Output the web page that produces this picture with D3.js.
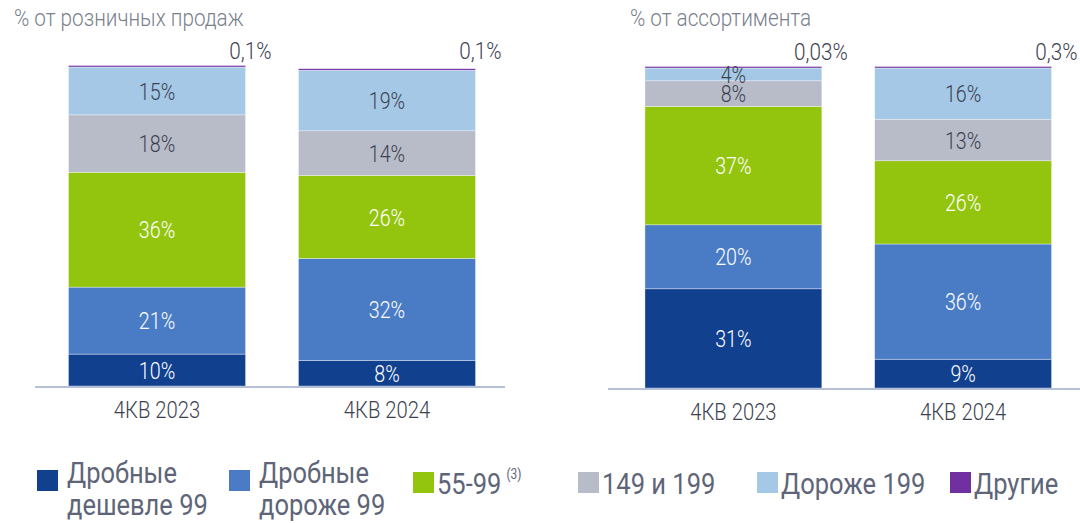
<!DOCTYPE html>
<html>
<head>
<meta charset="utf-8">
<script src="https://cdn.jsdelivr.net/npm/d3@7"></script>
<style>
  body { margin: 0; background: #fff; }
  svg { font-family: Roboto, "Noto Sans", sans-serif; }
</style>
</head>
<body>
<svg id="chart" width="1080" height="523"></svg>
<script>
// categories
var periods = ["4КВ 2023", "4КВ 2024"];
var seriesKeys = ["cheap", "dear", "mid", "p149", "p199", "other"];
var seriesNames = ["Дробные\nдешевле 99", "Дробные\nдороже 99", "55-99", "149 и 199", "Дороже 199", "Другие"];
var seriesColors = ["#11408f", "#4a7cc6", "#93c50f", "#b8bcc8", "#a5c8e6", "#7030a0"];

// % от розничных продаж
var salesCheap = [10, 8];
var salesDear = [21, 32];
var salesMid = [36, 26];
var sales149 = [18, 14];
var sales199 = [15, 19];
var salesOther = [0.1, 0.1];
var salesOtherLabels = ["0,1%", "0,1%"];

// % от ассортимента
var assortCheap = [31, 9];
var assortDear = [20, 36];
var assortMid = [37, 26];
var assort149 = [8, 13];
var assort199 = [4, 16];
var assortOther = [0.03, 0.3];
var assortOtherLabels = ["0,03%", "0,3%"];

var svg = d3.select("#chart");

function buildRows(a, b, c, d, e, f) {
    return periods.map(function(p, i) {
        return { period: p, cheap: a[i], dear: b[i], mid: c[i], p149: d[i], p199: e[i], other: f[i] };
    });
}

// the original uses a condensed face, so squeeze the text horizontally
function condensed(sel, sx) {
    return sel.attr("transform", function() {
        var t = d3.select(this);
        return "translate(" + t.attr("x") + "," + t.attr("y") + ") scale(" + sx + ",1)";
    }).attr("x", 0).attr("y", 0);
}

// dark text on light fills, white on dark ones
var labelColor = { cheap: "#ffffff", dear: "#ffffff", mid: "#ffffff", p149: "#3d4250", p199: "#3d4250", other: "#3d4250" };

function drawPanel(opts) {
    var g = svg.append("g");

    var x = d3.scaleBand()
        .domain(periods)
        .range(opts.xRange)
        .paddingInner(0.23)
        .paddingOuter(0.15);

    var y = d3.scaleLinear()
        .domain([0, 100])
        .range([opts.base, opts.top]);

    var stacked = d3.stack().keys(seriesKeys)(opts.rows);

    var layers = g.selectAll("g.layer")
        .data(stacked)
        .enter().append("g")
        .attr("class", "layer")
        .attr("fill", function(d, i) { return seriesColors[i]; });

    layers.selectAll("rect")
        .data(function(d) { return d; })
        .enter().append("rect")
        .attr("x", function(d) { return x(d.data.period); })
        .attr("width", x.bandwidth())
        .attr("y", function(d) { return Math.min(y(d[1]), y(d[0]) - 1.5); })
        .attr("height", function(d) { return Math.max(y(d[0]) - y(d[1]), 1.5); })
        .attr("stroke", "#ffffff")
        .attr("stroke-width", 0.6)
        .attr("stroke-opacity", 0.6);

    // segment labels (all but "Другие")
    stacked.forEach(function(layer) {
        if (layer.key === "other") return;
        var lbl = g.selectAll(null)
            .data(layer)
            .enter().append("text")
            .attr("x", function(d) { return x(d.data.period) + x.bandwidth() / 2; })
            .attr("y", function(d) { return (y(d[0]) + y(d[1])) / 2; })
            .attr("dy", "0.36em")
            .attr("text-anchor", "middle")
            .attr("font-size", 24)
            .attr("font-weight", 300)
            .attr("fill", labelColor[layer.key])
            .text(function(d) { return Math.round(d[1] - d[0]) + "%"; });
        condensed(lbl, 0.82);
    });

    // "Другие" labels above the bars
    var oth = g.selectAll("text.other")
        .data(opts.rows)
        .enter().append("text")
        .attr("class", "other")
        .attr("x", function(d) { return x(d.period) + x.bandwidth() + 26; })
        .attr("y", opts.top - 8)
        .attr("text-anchor", "end")
        .attr("font-size", 23)
        .attr("font-weight", 300)
        .attr("fill", "#3d4250")
        .text(function(d, i) { return opts.otherLabels[i]; });
    condensed(oth, 0.9);

    // baseline
    g.append("line")
        .attr("x1", opts.lineX[0]).attr("x2", opts.lineX[1])
        .attr("y1", opts.base + 1).attr("y2", opts.base + 1)
        .attr("stroke", "#b4c0d6")
        .attr("stroke-width", 2);

    // x axis labels
    var axis = g.append("g")
        .attr("transform", "translate(0," + (opts.base + 2) + ")")
        .call(d3.axisBottom(x).tickSize(0).tickPadding(14));
    axis.select(".domain").remove();
    axis.selectAll("text")
        .attr("font-family", "Roboto, sans-serif")
        .attr("font-size", 23)
        .attr("font-weight", 300)
        .attr("fill", "#3d4250")
        .attr("transform", "scale(0.88,1)");

    // panel title
    var title = g.append("text")
        .attr("x", opts.titleX)
        .attr("y", 26)
        .attr("font-size", 23)
        .attr("font-weight", 300)
        .attr("fill", "#7a7f8c")
        .text(opts.title);
    condensed(title, 0.9);
}

drawPanel({
    rows: buildRows(salesCheap, salesDear, salesMid, sales149, sales199, salesOther),
    otherLabels: salesOtherLabels,
    xRange: [34, 510],
    base: 386, top: 67,
    lineX: [35, 505],
    title: "% от розничных продаж",
    titleX: 14
});

drawPanel({
    rows: buildRows(assortCheap, assortDear, assortMid, assort149, assort199, assortOther),
    otherLabels: assortOtherLabels,
    xRange: [610.5, 1086],
    base: 388, top: 68,
    lineX: [608, 1080],
    title: "% от ассортимента",
    titleX: 630
});

// legend
var legendX = [37, 229, 413, 578, 757, 950];
var legend = svg.append("g");
var item = legend.selectAll("g")
    .data(seriesNames)
    .enter().append("g")
    .attr("transform", function(d, i) { return "translate(" + legendX[i] + ",0)"; });

item.append("rect")
    .attr("y", function(d, i) { return i < 2 ? 470 : 472; })
    .attr("width", 21)
    .attr("height", 21)
    .attr("fill", function(d, i) { return seriesColors[i]; });

item.each(function(name, i) {
    var lines = name.split("\n");
    var tx = i < 2 ? 30 : 24;
    lines.forEach(function(l, k) {
        var t = d3.select(this).append("text")
            .attr("transform", "translate(" + tx + "," + (lines.length > 1 ? 483 + k * 32 : 494) + ") scale(0.85,1)")
            .attr("font-size", 30)
            .attr("fill", "#5e6578")
            .text(l);
        if (i === 2) {
            t.append("tspan")
                .attr("dx", 6)
                .attr("dy", -15)
                .attr("font-size", 14)
                .text("(3)");
        }
    }, this);
});
</script>
</body>
</html>
